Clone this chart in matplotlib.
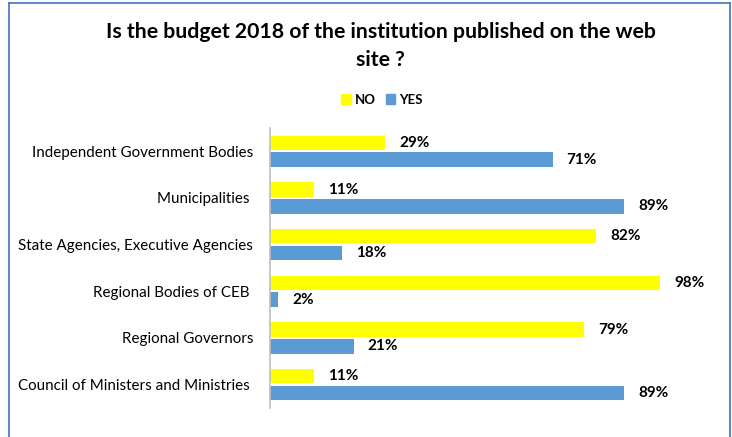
import numpy as np
import matplotlib.pyplot as plt
from matplotlib.lines import Line2D
from matplotlib.patches import Patch

categories = [
    'Independent Government Bodies',
    'Municipalities ',
    'State Agencies, Executive Agencies',
    'Regional Bodies of CEB ',
    'Regional Governors',
    'Council of Ministers and Ministries ',
]
no_vals = [29, 11, 82, 98, 79, 11]
yes_vals = [71, 89, 18, 2, 21, 89]

plt.rcParams['font.family'] = ['Lato', 'DejaVu Sans']

fig = plt.figure(figsize=(7.32, 4.37), dpi=100)
ax = fig.add_axes([0.3689, 0.0664, 0.5437, 0.6407])

y = np.arange(len(categories))
h = 0.31
off = 0.18
no_bars = ax.barh(y - off, no_vals, height=h, color='#FFFF00')
yes_bars = ax.barh(y + off, yes_vals, height=h, color='#5B9BD5')

for bars, vals in ((no_bars, no_vals), (yes_bars, yes_vals)):
    for b, v in zip(bars, vals):
        ax.annotate(f'{v}%', (b.get_width(), b.get_y() + b.get_height() / 2),
                    xytext=(10, 0), textcoords='offset points',
                    ha='left', va='center', fontsize=11, fontweight='bold',
                    annotation_clip=False)

ax.set_xlim(0, 100)
ax.set_ylim(len(categories) - 0.5, -0.5)
ax.set_yticks(y)
ax.set_yticklabels(categories, fontsize=10.9)
ax.tick_params(axis='y', length=0, pad=12)
ax.set_xticks([])
for s in ('top', 'right', 'bottom'):
    ax.spines[s].set_visible(False)
ax.spines['left'].set_color('#BFBFBF')
ax.spines['left'].set_linewidth(1.2)

fig.text(0.52, 0.894, 'Is the budget 2018 of the institution published on the web\nsite ?',
         ha='center', va='center', fontsize=15.3, fontweight='bold', linespacing=1.5)

handles = [Patch(color='#FFFF00', label='NO'), Patch(color='#5B9BD5', label='YES')]
fig.legend(handles=handles, loc='center', bbox_to_anchor=(0.522, 0.772), ncol=2,
           frameon=False, handlelength=0.7, handleheight=0.7, handletextpad=0.3,
           columnspacing=0.8, prop={'weight': 'bold', 'size': 9.5})

# thin blue frame around the chart area
frame_col = '#4472C4'
fig.add_artist(Line2D([0.012, 0.012], [0.0, 0.992], color=frame_col, lw=1.2, transform=fig.transFigure))
fig.add_artist(Line2D([0.012, 0.997], [0.992, 0.992], color=frame_col, lw=1.2, transform=fig.transFigure))
fig.add_artist(Line2D([0.997, 0.997], [0.0, 0.992], color=frame_col, lw=1.2, transform=fig.transFigure))

fig.savefig('out.png', dpi=100)
